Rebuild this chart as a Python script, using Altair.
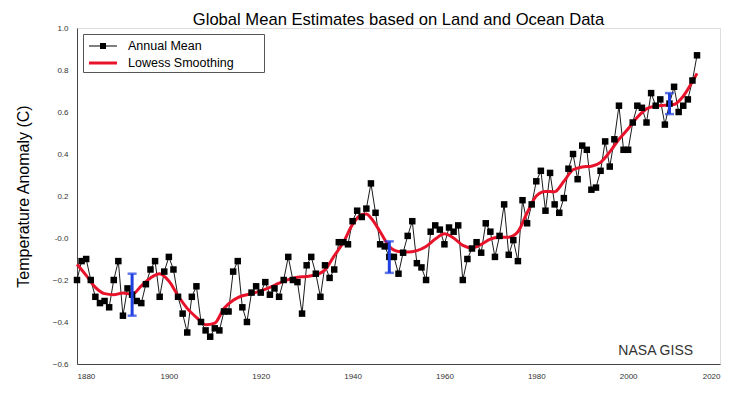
import altair as alt
import pandas as pd

# ---------------- data ----------------
years = list(range(1880, 2016))
annual_mean = [
    -0.20, -0.11, -0.10, -0.20, -0.28, -0.31, -0.30, -0.33, -0.20, -0.11,
    -0.37, -0.24, -0.27, -0.30, -0.31, -0.22, -0.15, -0.11, -0.28, -0.16,
    -0.09, -0.15, -0.28, -0.36, -0.45, -0.28, -0.23, -0.40, -0.44, -0.47,
    -0.43, -0.44, -0.35, -0.35, -0.16, -0.11, -0.33, -0.40, -0.26, -0.23,
    -0.26, -0.21, -0.27, -0.24, -0.28, -0.20, -0.09, -0.20, -0.21, -0.36,
    -0.13, -0.09, -0.17, -0.28, -0.13, -0.19, -0.15, -0.02, -0.02, -0.03,
    0.08, 0.13, 0.10, 0.14, 0.26, 0.12, -0.03, -0.04, -0.09, -0.09,
    -0.17, -0.07, 0.01, 0.08, -0.12, -0.14, -0.20, 0.03, 0.06, 0.04,
    -0.03, 0.05, 0.03, 0.06, -0.20, -0.10, -0.05, -0.02, -0.07, 0.07,
    0.03, -0.09, 0.01, 0.16, -0.08, -0.01, -0.11, 0.18, 0.07, 0.16,
    0.27, 0.32, 0.13, 0.31, 0.16, 0.12, 0.19, 0.33, 0.40, 0.28,
    0.44, 0.42, 0.23, 0.24, 0.32, 0.46, 0.34, 0.47, 0.63, 0.42,
    0.42, 0.55, 0.63, 0.62, 0.55, 0.69, 0.63, 0.66, 0.54, 0.64,
    0.72, 0.60, 0.63, 0.66, 0.75, 0.87,
]

smooth_years = [
    1880, 1882, 1884, 1886, 1888, 1890, 1892, 1894, 1896, 1898,
    1900, 1902, 1904, 1906, 1908, 1910, 1912, 1914, 1916, 1918,
    1920, 1922, 1924, 1926, 1928, 1930, 1932, 1934, 1936, 1938,
    1940, 1942, 1943, 1944, 1946, 1948, 1950, 1952, 1954, 1956,
    1958, 1960, 1962, 1964, 1966, 1968, 1970, 1972, 1974, 1976,
    1978, 1980, 1982, 1984, 1986, 1988, 1990, 1992, 1994, 1996,
    1998, 2000, 2002, 2004, 2006, 2008, 2010, 2012, 2014, 2015,
]
smooth_values = [
    -0.125, -0.178, -0.235, -0.265, -0.270, -0.262, -0.268, -0.228, -0.190, -0.170,
    -0.205, -0.275, -0.335, -0.378, -0.413, -0.405, -0.335, -0.296, -0.275, -0.265,
    -0.252, -0.235, -0.215, -0.198, -0.187, -0.183, -0.175, -0.152, -0.085, -0.020,
    0.065, 0.112, 0.114, 0.095, 0.030, -0.040, -0.064, -0.067, -0.060, -0.040,
    -0.005, 0.020, 0.000, -0.035, -0.047, -0.030, -0.005, 0.003, 0.004, 0.030,
    0.120, 0.200, 0.222, 0.220, 0.270, 0.325, 0.338, 0.342, 0.360, 0.410,
    0.470, 0.520, 0.575, 0.615, 0.628, 0.632, 0.636, 0.675, 0.745, 0.784,
]

err_years = [1892, 1948, 2009]
err_low = [-0.37, -0.166, 0.59]
err_high = [-0.17, -0.016, 0.69]

series_names = ["Annual Mean", "Lowess Smoothing"]
series_colors = ["black", "#e8132b"]
legend_shapes = [
    "M-1.4,-0.05L1.4,-0.05L1.4,0.05L-1.4,0.05Z M-0.3,-0.3L0.3,-0.3L0.3,0.3L-0.3,0.3Z",
    "M-1.4,-0.15L1.4,-0.15L1.4,0.15L-1.4,0.15Z",
]

x_ticks = [1880, 1900, 1920, 1940, 1960, 1980, 2000, 2020]
y_ticks = [-0.6, -0.4, -0.2, 0.0, 0.2, 0.4, 0.6, 0.8, 1.0]

title_text = ["Global Mean Estimates based on Land and Ocean Data"]
credit_text = ["NASA GISS"]
credit_x = [2006]
credit_y = [-0.557]

# ---------------- tables ----------------
df_annual = pd.DataFrame({"year": years, "value": annual_mean})
df_smooth = pd.DataFrame({"year": smooth_years, "value": smooth_values})
df_err = pd.DataFrame({"year": err_years, "low": err_low, "high": err_high})
df_caps = pd.DataFrame({"year": err_years + err_years, "value": err_low + err_high})
df_legend = pd.DataFrame({"year": [1880, 1880], "value": [0.0, 0.0], "series": series_names})
df_credit = pd.DataFrame({"year": credit_x, "value": credit_y, "text": credit_text})
df_title = pd.DataFrame({"text": title_text})

FONT = "Liberation Sans"
BLUE = "#1f3fe0"
PAD = "\u00a0" * 8 + "\u200b"

x_enc = alt.X(
    "year:Q",
    scale=alt.Scale(domain=[1880, 2020], nice=False, zero=False),
    axis=alt.Axis(
        values=x_ticks, format="d", title=None, grid=False, ticks=False, tickSize=0,
        labelPadding=8, labelFontSize=8, labelColor="#333", labelFont=FONT,
        domainColor="#444", domainWidth=1,
    ),
)
y_enc = alt.Y(
    "value:Q",
    scale=alt.Scale(domain=[-0.6, 1.0], nice=False, zero=False),
    axis=alt.Axis(
        values=y_ticks,
        labelExpr="abs(datum.value) < 1e-9 ? '-0.0' : format(datum.value, '.1f')",
        title="Temperature Anomaly (C)", titleFontSize=16, titleFontWeight="normal",
        titleFont=FONT, titleColor="black", titlePadding=21,
        grid=False, ticks=False, tickSize=0, labelPadding=9, labelFontSize=8,
        labelColor="#333", labelFont=FONT, domainColor="#444", domainWidth=1,
    ),
)

annual_line = alt.Chart(df_annual).mark_line(color="black", strokeWidth=0.9).encode(x=x_enc, y=y_enc)
smooth_line = alt.Chart(df_smooth).mark_line(
    color=series_colors[1], strokeWidth=3, interpolate="monotone"
).encode(x="year:Q", y="value:Q")
annual_pts = alt.Chart(df_annual).mark_square(color="black", size=42, opacity=1).encode(
    x="year:Q", y="value:Q"
)
err_rule = alt.Chart(df_err).mark_rule(color=BLUE, strokeWidth=3).encode(
    x="year:Q", y="low:Q", y2="high:Q"
)
err_caps = alt.Chart(df_caps).mark_tick(
    color=BLUE, orient="horizontal", size=9, thickness=2.5
).encode(x="year:Q", y="value:Q")

legend_props = dict(
    title=None, orient="none", legendX=6, legendY=6, padding=2, rowPadding=0,
    symbolSize=400, symbolOffset=8, labelOffset=15, symbolStrokeWidth=0,
    strokeColor="#555", fillColor="white", labelFont=FONT, labelFontSize=12.5,
    labelColor="black", labelExpr="datum.label + '" + PAD + "'",
)

legend_layer = alt.Chart(df_legend).mark_point(filled=True, opacity=1).encode(
    x="year:Q",
    y="value:Q",
    color=alt.Color(
        "series:N",
        scale=alt.Scale(domain=series_names, range=series_colors),
        legend=alt.Legend(**legend_props),
    ),
    shape=alt.Shape(
        "series:N",
        scale=alt.Scale(domain=series_names, range=legend_shapes),
        legend=alt.Legend(**legend_props),
    ),
).transform_filter("false")

credit = alt.Chart(df_credit).mark_text(
    font=FONT, fontSize=14, color="#333", align="center", baseline="alphabetic"
).encode(x="year:Q", y="value:Q", text="text:N")

title = alt.Chart(df_title).mark_text(
    font=FONT, fontSize=16.6, color="black", align="center", baseline="alphabetic"
).encode(x=alt.value(321.5), y=alt.value(-3), text="text:N")

chart = alt.layer(
    annual_line, smooth_line, annual_pts, err_rule, err_caps, legend_layer, credit, title
).properties(
    width=643,
    height=336,
    autosize=alt.AutoSizeParams(type="none"),
    padding={"left": 69, "top": 20, "right": 20, "bottom": 21},
).configure_view(stroke=None).configure(background="white")

chart.save("out.html", embed_options={"renderer": "svg", "actions": False})
